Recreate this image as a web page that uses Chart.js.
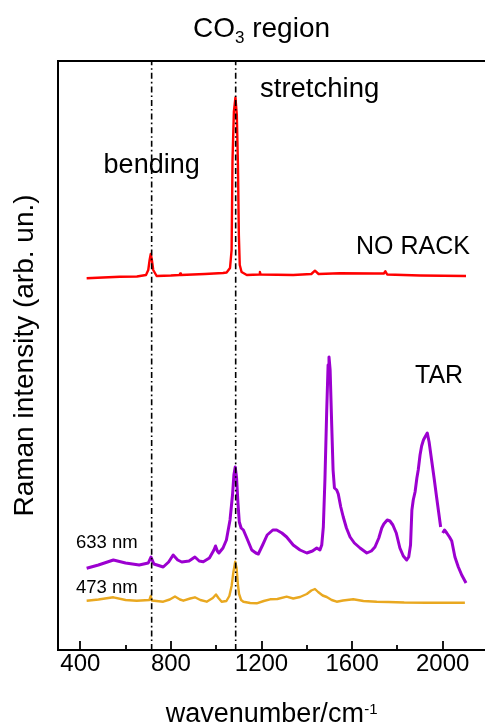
<!DOCTYPE html>
<html><head><meta charset="utf-8">
<script src="https://cdn.jsdelivr.net/npm/chart.js@4.4.1/dist/chart.umd.min.js"></script>
<style>html,body{margin:0;padding:0;background:#fff;overflow:hidden}</style>
</head><body>
<canvas id="c" width="485" height="728"></canvas>
<script>
// ---- data (wavenumber in cm-1, intensity in arbitrary units) ----
const xTicks = [400, 800, 1200, 1600, 2000];
const xMinorTicks = [600, 1000, 1400, 1800];
const bandPositions = [715, 1086];

const noRackX = [428, 500, 575, 650, 690, 700, 706, 711, 716, 722, 737, 800, 838, 841, 844, 950, 1030, 1046, 1061, 1068, 1072, 1078, 1085, 1091, 1096, 1100, 1104, 1112, 1135, 1190, 1193, 1196, 1340, 1420, 1436, 1452, 1546, 1700, 1740, 1747, 1755, 1900, 2103];
const noRackY = [371.7, 372.5, 373.3, 373.5, 375, 380, 390, 396, 390, 380, 374, 374.5, 375, 376.5, 375, 376, 377, 377.5, 382, 400, 490, 538, 552.5, 535, 485, 415, 385, 378, 375, 375.5, 378, 375.5, 375, 376, 379.3, 376, 376.7, 376.5, 376.5, 378.7, 375.5, 374.5, 374];

const tar633X = [428, 480, 546, 600, 660, 700, 712, 725, 766, 790, 810, 830, 848, 880, 906, 925, 943, 970, 990, 997, 1005, 1012, 1030, 1045, 1061, 1072, 1078, 1084, 1090, 1096, 1102, 1110, 1120, 1135, 1157, 1175, 1186, 1205, 1225, 1250, 1267, 1290, 1311, 1340, 1370, 1400, 1425, 1444, 1458, 1466, 1473, 1480, 1488, 1494, 1498, 1503, 1510, 1516, 1522, 1532, 1539, 1550, 1561, 1575, 1591, 1610, 1635, 1665, 1685, 1701, 1718, 1731, 1740, 1755, 1767, 1780, 1795, 1811, 1826, 1841, 1850, 1858, 1864, 1870, 1878, 1886, 1892, 1900, 1907, 1915, 1922, 1932, 1940, 1951, 1962, 1973, 1982, 1991, 1996, 2000, 2008, 2018, 2030, 2040, 2054, 2069, 2084, 2103];
const tar633Y = [81.7, 85, 90, 87, 85, 87, 93, 86, 83, 88, 95, 90, 88, 89, 93, 89, 88.3, 92, 100, 104, 99, 97, 102, 110, 130, 155, 175, 183, 172, 147, 128, 122, 120, 112, 100, 97, 96, 105, 115, 120, 120, 117, 113, 105, 100, 97, 99, 102, 100, 105, 123, 170, 240, 285, 293, 280, 225, 180, 162, 160, 156, 143, 133, 122, 113, 107, 102, 97, 99, 103, 112, 122, 126, 130, 129, 125, 117, 102, 94, 90, 93, 105, 140, 150, 158, 172, 180, 195, 204, 210, 213, 217, 208, 190, 172, 153, 138, 123, null, 117, 120, 117, 113, 109, 93, 83, 75, 67];

const tar473X = [428, 480, 546, 600, 649, 705, 711, 716, 766, 795, 818, 840, 855, 885, 906, 930, 958, 985, 999, 1010, 1024, 1045, 1058, 1068, 1076, 1084, 1090, 1096, 1101, 1110, 1120, 1150, 1179, 1210, 1238, 1270, 1311, 1340, 1370, 1400, 1420, 1436, 1450, 1470, 1488, 1510, 1532, 1560, 1605, 1650, 1709, 1760, 1830, 1929, 2000, 2098];
const tar473Y = [49.3, 50.5, 52.7, 50, 49.3, 50, 54, 49.5, 48.3, 50.5, 53.5, 50.5, 49.3, 51.5, 52.7, 50, 48.3, 52, 55.5, 52, 48.3, 49, 54, 64, 78, 88.3, 82, 65, 56, 50, 48.3, 47, 46.7, 49, 50.7, 51, 53.3, 51.5, 53, 56, 59.5, 61, 58, 54.5, 53, 50, 48.3, 49.5, 50.7, 49, 48.3, 48, 47.5, 47.3, 47.3, 47.3];

const seriesNames = ['NO RACK', '633 nm', '473 nm'];

// ---- build ----
const FONT = "'Liberation Sans', Arial, Helvetica, sans-serif";
Chart.defaults.font.family = FONT;
Chart.defaults.color = '#000';

const zip = (xs, ys) => xs.map((x, i) => ({x: x, y: ys[i]}));
const yMin = 0, yMax = 589;

const bandSets = bandPositions.map(p => ({
  label: 'band ' + p,
  data: [{x: p, y: yMin}, {x: p, y: yMax}],
  borderColor: '#000', borderWidth: 1.6, borderDash: [6, 3, 1.6, 3],
  pointRadius: 0, order: 0, fill: false
}));

const deco = {
  id: 'deco',
  afterDraw(chart) {
    const ctx = chart.ctx, a = chart.chartArea, xs = chart.scales.x;
    ctx.save();
    ctx.strokeStyle = '#000';
    ctx.lineWidth = 2;
    ctx.beginPath(); ctx.moveTo(a.left - 1, a.top); ctx.lineTo(a.right, a.top); ctx.stroke();
    ctx.lineWidth = 1.8;
    xTicks.forEach(v => { const px = Math.round(xs.getPixelForValue(v)); ctx.beginPath(); ctx.moveTo(px, a.bottom); ctx.lineTo(px, a.bottom - 9); ctx.stroke(); });
    xMinorTicks.forEach(v => { const px = Math.round(xs.getPixelForValue(v)); ctx.beginPath(); ctx.moveTo(px, a.bottom); ctx.lineTo(px, a.bottom - 5); ctx.stroke(); });

    ctx.fillStyle = '#000';
    ctx.textBaseline = 'alphabetic';
    const big = '28px ' + FONT, sub = '17px ' + FONT;
    ctx.font = big; const w1 = ctx.measureText('CO').width, w3 = ctx.measureText(' region').width;
    ctx.font = sub; const w2 = ctx.measureText('3').width;
    let x0 = 261.5 - (w1 + w2 + w3) / 2;
    ctx.textAlign = 'left';
    ctx.font = big; ctx.fillText('CO', x0, 37);
    ctx.font = sub; ctx.fillText('3', x0 + w1, 43);
    ctx.font = big; ctx.fillText(' region', x0 + w1 + w2, 37);

    const xt = '27px ' + FONT, sup = '15px ' + FONT;
    ctx.font = xt; const t1 = ctx.measureText('wavenumber/cm').width;
    ctx.font = sup; const t2 = ctx.measureText('-1').width;
    x0 = (a.left + a.right) / 2 - (t1 + t2) / 2;
    ctx.font = xt; ctx.fillText('wavenumber/cm', x0, 722);
    ctx.font = sup; ctx.fillText('-1', x0 + t1 + 0.5, 714);

    ctx.font = '27.5px ' + FONT; ctx.fillText('stretching', 260, 97);
    ctx.textAlign = 'center';
    ctx.font = '27px ' + FONT; ctx.fillText('bending', xs.getPixelForValue(bandPositions[0]), 173);
    ctx.textAlign = 'left';
    ctx.font = '25px ' + FONT; ctx.fillText(seriesNames[0], 356, 254);
    ctx.font = '25px ' + FONT; ctx.fillText('TAR', 415, 382.5);
    ctx.font = '18.5px ' + FONT; ctx.fillText(seriesNames[1], 76, 548);
    ctx.font = '18.5px ' + FONT; ctx.fillText(seriesNames[2], 76, 592.5);
    ctx.restore();
  }
};

new Chart(document.getElementById('c'), {
  type: 'line',
  data: {
    datasets: [
      ...bandSets,
      {label: seriesNames[0], data: zip(noRackX, noRackY), borderColor: '#ff0000', borderWidth: 2.4, borderJoinStyle: 'round', pointRadius: 0, order: 1, spanGaps: false},
      {label: seriesNames[1], data: zip(tar633X, tar633Y), borderColor: '#9c00d0', borderWidth: 3, borderJoinStyle: 'round', pointRadius: 0, order: 1, spanGaps: false},
      {label: seriesNames[2], data: zip(tar473X, tar473Y), borderColor: '#e9a820', borderWidth: 2.4, borderJoinStyle: 'round', pointRadius: 0, order: 1, spanGaps: false}
    ]
  },
  options: {
    responsive: false, animation: false, devicePixelRatio: 1,
    layout: {padding: {left: 0, right: 0, top: 61, bottom: 49.2}},
    plugins: {legend: {display: false}, tooltip: {enabled: false}, title: {display: false}},
    elements: {line: {tension: 0}},
    scales: {
      x: {
        type: 'linear', min: 301.5, max: 2186.8,
        grid: {display: false, drawTicks: false},
        border: {display: true, color: '#000', width: 2},
        ticks: {font: {size: 24}, padding: 0, color: '#000', maxRotation: 0, autoSkip: false, callback: v => String(v)},
        afterBuildTicks: s => { s.ticks = xTicks.map(v => ({value: v})); },
        title: {display: false}
      },
      y: {
        type: 'linear', min: yMin, max: yMax,
        grid: {display: false, drawTicks: false},
        border: {display: true, color: '#000', width: 2},
        ticks: {display: false},
        title: {display: true, text: 'Raman intensity (arb. un.)', font: {size: 28}, color: '#000', padding: {top: 8.5, bottom: 15.9}}
      }
    }
  },
  plugins: [deco]
});
</script>
</body></html>
